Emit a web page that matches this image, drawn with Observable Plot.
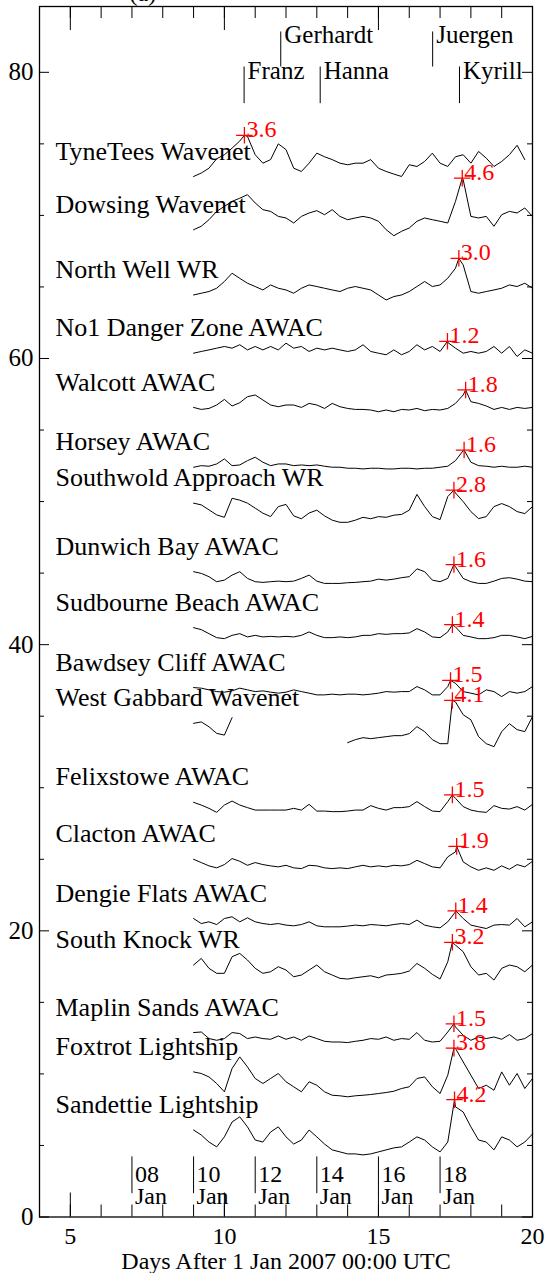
<!DOCTYPE html>
<html><head><meta charset="utf-8">
<script src="https://cdn.jsdelivr.net/npm/d3@7"></script>
<script src="https://cdn.jsdelivr.net/npm/@observablehq/plot@0.6"></script>
<style>body{margin:0;background:#fff}</style>
</head><body><div id="chart"></div>
<script>
// Stations, top to bottom
const stations = ["TyneTees Wavenet","Dowsing Wavenet","North Well WR","No1 Danger Zone AWAC","Walcott AWAC","Horsey AWAC","Southwold Approach WR","Dunwich Bay AWAC","Sudbourne Beach AWAC","Bawdsey Cliff AWAC","West Gabbard Wavenet","Felixstowe AWAC","Clacton AWAC","Dengie Flats AWAC","South Knock WR","Maplin Sands AWAC","Foxtrot Lightship","Sandettie Lightship"];

// Significant wave height (m), sampled every 0.25 day from day 9
const startDay = 9, step = 0.25;
const tyneTees = [0.72,0.96,1.3,1.96,2.24,2.7,3.2,3.52,2.24,1.65,1.9,3.0,2.6,1.3,1.07,1.65,2.35,2.1,1.9,1.65,1.54,1.65,1.65,1.9,1.3,1.07,0.89,0.72,1.54,1.42,1.77,2.35,1.65,1.42,2.1,2.24,1.65,2.47,2.0,1.42,1.77,2.24,2.9,1.9];
const dowsing = [1.0,1.24,1.7,2.28,2.63,2.98,3.2,3.45,2.87,2.4,2.28,1.93,1.82,1.47,1.93,2.17,2.33,2.05,2.4,1.93,1.7,1.82,1.93,1.82,1.59,1.0,0.58,0.89,1.12,1.59,1.82,1.7,1.59,1.47,2.98,4.5,1.93,1.82,1.93,1.24,2.05,2.28,2.17,2.52,1.93];
const northWell = [0.44,0.56,0.68,0.91,1.38,1.96,1.6,1.26,1.03,0.79,1.14,0.91,0.79,0.56,0.91,1.14,1.03,0.91,0.79,0.68,0.91,1.03,0.91,0.79,0.44,0.09,0.33,0.44,0.68,1.03,1.38,1.03,1.14,1.61,2.31,2.54,0.68,0.56,0.68,0.79,0.91,1.14,1.03,1.26,0.91];
const no1DangerZone = [0.37,0.49,0.6,0.72,0.84,0.72,0.96,0.6,0.84,0.6,0.84,0.6,1.07,0.72,0.84,0.49,0.72,0.6,0.72,0.6,0.49,0.6,0.96,0.49,0.37,0.26,0.6,0.26,0.49,0.96,0.6,0.84,0.49,1.12,0.72,0.37,0.49,0.37,0.49,0.84,0.37,0.84,0.14,0.6,0.37];
const walcott = [0.58,0.44,0.51,0.75,1.14,0.68,0.91,1.33,1.45,1.1,0.75,0.63,0.75,0.75,0.58,0.86,0.75,0.51,0.86,0.63,0.51,0.44,0.44,0.4,0.28,0.4,0.28,0.44,0.4,0.51,0.35,0.44,0.4,0.51,0.86,1.45,0.98,0.86,0.68,0.44,0.58,0.44,0.58,0.51,0.58];
const horsey = [0.4,0.51,0.47,0.63,0.98,0.51,0.56,0.86,1.1,0.75,0.51,0.63,0.63,0.51,0.56,0.51,0.56,0.47,0.4,0.4,0.33,0.33,0.28,0.33,0.33,0.28,0.28,0.33,0.33,0.28,0.33,0.33,0.4,0.47,0.86,1.56,0.75,0.51,0.47,0.4,0.47,0.4,0.4,0.47,0.4];
const southwold = [1.89,1.77,1.42,1.07,0.9,2.23,2.1,1.89,1.54,1.19,0.95,1.65,1.8,1.0,0.8,1.2,1.4,1.0,0.7,0.55,0.55,0.7,0.9,0.8,0.95,0.9,1.05,1.1,1.4,2.5,1.65,0.95,0.74,2.35,2.6,2.0,1.3,0.81,0.95,1.65,1.86,1.65,1.3,1.16,1.65];
const dunwich = [1.1,0.98,0.75,0.4,0.51,0.86,1.1,0.63,0.4,0.35,0.4,0.44,0.4,0.44,0.63,0.86,0.44,0.28,0.28,0.28,0.33,0.35,0.4,0.44,0.58,0.51,0.58,0.68,0.75,1.3,1.1,0.51,0.4,0.63,1.45,0.63,0.4,0.28,0.28,0.44,0.63,0.68,0.58,0.44,0.4];
const sudbourne = [1.19,1.05,0.77,0.49,0.42,0.65,0.77,0.54,0.65,0.54,0.58,0.54,0.58,0.54,0.65,0.89,0.65,0.49,0.49,0.54,0.49,0.54,0.65,0.65,0.77,0.72,0.77,0.77,0.82,1.12,0.89,0.54,0.49,0.89,1.24,0.65,0.54,0.42,0.42,0.49,0.65,0.65,0.54,0.42,0.58];
const bawdsey = [1.0,0.96,0.84,0.72,0.68,0.77,0.96,0.84,0.72,0.77,0.68,0.61,0.68,0.84,0.72,0.61,0.49,0.49,0.54,0.49,0.54,0.54,0.49,0.54,0.61,0.72,0.68,0.72,0.72,1.07,0.84,0.49,0.49,1.07,1.3,0.72,0.61,0.49,0.84,0.72,0.37,0.72,0.61,0.72,1.07];
const westGabbard = [2.5,2.6,2.26,1.8,1.68,2.9,null,null,null,null,null,null,null,null,null,null,null,null,null,null,1.15,1.36,1.5,1.43,1.5,1.57,1.64,1.64,1.78,2.27,1.92,1.36,1.08,1.08,4.0,3.1,2.75,1.57,1.08,0.87,1.92,2.48,2.06,1.92,2.97];
const felixstowe = [0.98,0.79,0.56,0.28,0.79,1.07,0.79,0.61,0.44,0.44,0.44,0.44,0.44,0.56,0.44,0.84,0.37,0.37,0.33,0.33,0.37,0.44,0.44,0.75,0.56,0.44,0.61,0.61,0.68,1.03,0.68,0.37,0.33,1.03,1.26,0.68,0.44,0.33,0.28,0.75,0.56,0.51,0.68,0.44,0.84];
const clacton = [1.0,0.77,0.54,0.4,0.63,1.05,0.86,0.58,0.77,0.63,0.54,0.47,0.58,0.4,0.35,0.58,0.54,0.4,0.35,0.4,0.35,0.47,0.58,0.47,0.54,0.47,0.58,0.54,0.63,0.93,0.7,0.47,0.4,1.17,1.52,0.82,0.47,0.23,0.4,0.23,0.54,0.3,0.63,0.47,0.86];
const dengie = [0.86,0.51,0.63,0.44,0.86,0.98,0.63,0.91,0.63,0.51,0.44,0.51,0.4,0.35,0.44,0.63,0.35,0.28,0.28,0.28,0.33,0.4,0.35,0.44,0.4,0.35,0.44,0.51,0.44,0.75,0.4,0.28,0.21,0.63,1.33,0.86,0.4,0.28,0.16,0.4,0.44,0.4,0.86,0.28,0.63];
const southKnock = [1.61,2.07,1.38,1.03,1.03,2.19,2.42,1.96,1.38,1.03,1.14,1.49,1.26,0.79,0.91,1.26,1.61,1.14,0.91,0.68,0.63,0.72,0.79,0.86,0.72,0.91,0.96,1.03,1.19,1.72,1.38,0.96,0.63,1.84,3.0,2.54,1.49,0.91,1.03,0.56,1.38,1.61,1.49,1.14,1.61];
const maplin = [0.89,0.93,0.47,0.35,0.47,0.89,0.82,0.47,0.58,0.47,0.42,0.65,0.42,0.58,0.35,0.65,0.47,0.28,0.23,0.23,0.19,0.28,0.35,0.47,0.42,0.58,0.35,0.47,0.42,0.89,0.35,0.23,0.28,0.93,1.28,0.7,0.35,0.58,0.47,0.58,0.42,0.75,0.35,0.47,0.82];
const foxtrot = [2.14,2.03,1.79,1.33,0.75,2.38,3.19,2.49,1.68,1.33,1.68,2.03,1.45,1.1,0.75,1.45,1.21,0.75,0.51,0.47,0.4,0.47,0.51,0.56,0.63,0.7,0.79,0.98,1.1,1.68,1.79,1.1,0.63,1.91,3.78,2.84,1.91,0.98,1.21,0.86,2.14,1.21,2.03,0.98,1.68];
const sandettie = [2.08,1.73,1.24,0.9,1.6,2.64,3.0,2.3,1.38,1.24,1.94,2.3,1.6,1.1,1.38,2.08,1.6,1.1,0.69,0.55,0.41,0.41,0.34,0.41,0.55,0.69,0.83,0.9,1.24,1.6,1.38,0.9,0.55,1.24,3.7,3.34,2.3,1.38,1.24,0.69,1.6,1.38,0.9,1.24,1.8];

// Peak (maximum) of each record
const peakDays = [10.65,17.72,17.61,17.24,17.83,17.78,17.45,17.45,17.40,17.34,17.40,17.40,17.54,17.51,17.40,17.45,17.45,17.47];
const peakValues = [3.6,4.6,3.0,1.2,1.8,1.6,2.8,1.6,1.4,1.5,4.1,1.5,1.9,1.4,3.2,1.5,3.8,4.2];

// Storms
const storms = ["Franz","Gerhardt","Hanna","Juergen","Kyrill"];
const stormDays = [10.64,11.83,13.11,16.76,17.63];
const stormRow = ["lower","upper","lower","upper","lower"];

// Date annotations
const dateDays = [7,9,11,13,15,17];
const dateLabels = ["08","10","12","14","16","18"];
const dateMonth = "Jan";

const xTicks = [5,10,15,20];
const yTicks = [0,20,40,60,80];

// ---- build tables ----
const series = [tyneTees,dowsing,northWell,no1DangerZone,walcott,horsey,southwold,dunwich,sudbourne,bawdsey,westGabbard,felixstowe,clacton,dengie,southKnock,maplin,foxtrot,sandettie];
const n = stations.length;
const rows = [], peaks = [], labels = [];
stations.forEach((name, i) => {
  const base = 4 * (n - i);
  const pts = series[i].map((h, j) => ({day: startDay + j * step, h}));
  pts.push({day: peakDays[i], h: peakValues[i]});
  pts.sort((a, b) => a.day - b.day);
  for (const p of pts) rows.push({station: name, day: p.day, y: p.h == null ? NaN : base + p.h});
  peaks.push({day: peakDays[i], y: base + peakValues[i], v: peakValues[i]});
  labels.push({name, y: base + series[i][0] + 1.18});
});
const stormData = storms.map((s, i) => ({name: s, day: stormDays[i], up: stormRow[i] === "upper"}));
const dateData = dateDays.map((d, i) => ({day: d, text: dateLabels[i] + "\n" + dateMonth}));

const W = 546, H = 1273;
const mL = 39, mR = 14, mT = 6, mB = 56.5;
const fW = W - mL - mR, fH = H - mT - mB;
const xMinor = d3.range(5, 20);
const yMinor = d3.range(5, 85, 5).filter(v => v % 20 !== 0);
const FS = 24;

const chart = Plot.plot({
  width: W, height: H,
  marginLeft: mL, marginRight: mR, marginTop: mT, marginBottom: mB,
  x: {domain: [4, 20]},
  y: {domain: [0, 84.6]},
  style: {fontFamily: "'Liberation Serif','Times New Roman',serif", color: "black", background: "white", overflow: "visible"},
  marks: [
    // ticks (inward, mirrored)
    Plot.tickX(xTicks, {x: d => d, insetTop: fH - 24, stroke: "black"}),
    Plot.tickX(xMinor, {x: d => d, insetTop: fH - 12, stroke: "black"}),
    Plot.tickX(xTicks, {x: d => d, insetBottom: fH - 24, stroke: "black"}),
    Plot.tickX(xMinor, {x: d => d, insetBottom: fH - 12, stroke: "black"}),
    Plot.tickY(yTicks, {y: d => d, insetRight: fW - 10, stroke: "black"}),
    Plot.tickY(yMinor, {y: d => d, insetRight: fW - 5, stroke: "black"}),
    Plot.tickY(yTicks, {y: d => d, insetLeft: fW - 10, stroke: "black"}),
    Plot.tickY(yMinor, {y: d => d, insetLeft: fW - 5, stroke: "black"}),
    Plot.axisX({ticks: xTicks, anchor: "bottom", tickSize: 0, tickPadding: 10, fontSize: FS, tickFormat: d => String(d),
      label: "Days After 1 Jan 2007 00:00 UTC", labelAnchor: "center", labelOffset: 51.5, labelArrow: "none"}),
    Plot.axisY({ticks: yTicks, anchor: "left", tickSize: 0, tickPadding: 6, fontSize: 25, tickFormat: d => String(d), label: null}),
    // series
    Plot.line(rows, {x: "day", y: "y", z: "station", stroke: "black", strokeWidth: 1}),
    Plot.text(labels, {frameAnchor: "left", dx: 16, y: "y", text: "name", textAnchor: "start", lineAnchor: "bottom", fontSize: 26}),
    // peaks
    Plot.dot(peaks, {x: "day", y: "y", symbol: "plus", r: 5.4, stroke: "red", strokeWidth: 1.3}),
    Plot.text(peaks, {x: "day", y: "y", text: d => d.v.toFixed(1), fill: "red", textAnchor: "start", lineAnchor: "bottom", dx: 2, dy: 2, fontSize: FS}),
    // storms
    Plot.ruleX(stormData, {x: "day", y1: d => d.up ? 80.37 : 77.81, y2: d => d.up ? 82.82 : 80.37, stroke: "black"}),
    Plot.text(stormData, {x: "day", y: d => d.up ? 82.05 : 79.5, text: "name", textAnchor: "start", lineAnchor: "bottom", dx: 3.5, fontSize: 25}),
    // dates
    Plot.ruleX(dateData, {x: "day", y1: 1.63, y2: 4.2, stroke: "black"}),
    Plot.text(dateData, {x: "day", y: 0.93, text: "text", textAnchor: "start", lineAnchor: "bottom", lineHeight: 0.91, dx: 3, fontSize: FS}),
    // panel tag (cut off at the top)
    Plot.text(["(a)"], {frameAnchor: "top-left", dx: 90, dy: -6, text: d => d, lineAnchor: "bottom", fontSize: FS}),
    Plot.frame({stroke: "black", strokeWidth: 1.3})
  ]
});
document.getElementById("chart").appendChild(chart);
</script>
</body></html>
